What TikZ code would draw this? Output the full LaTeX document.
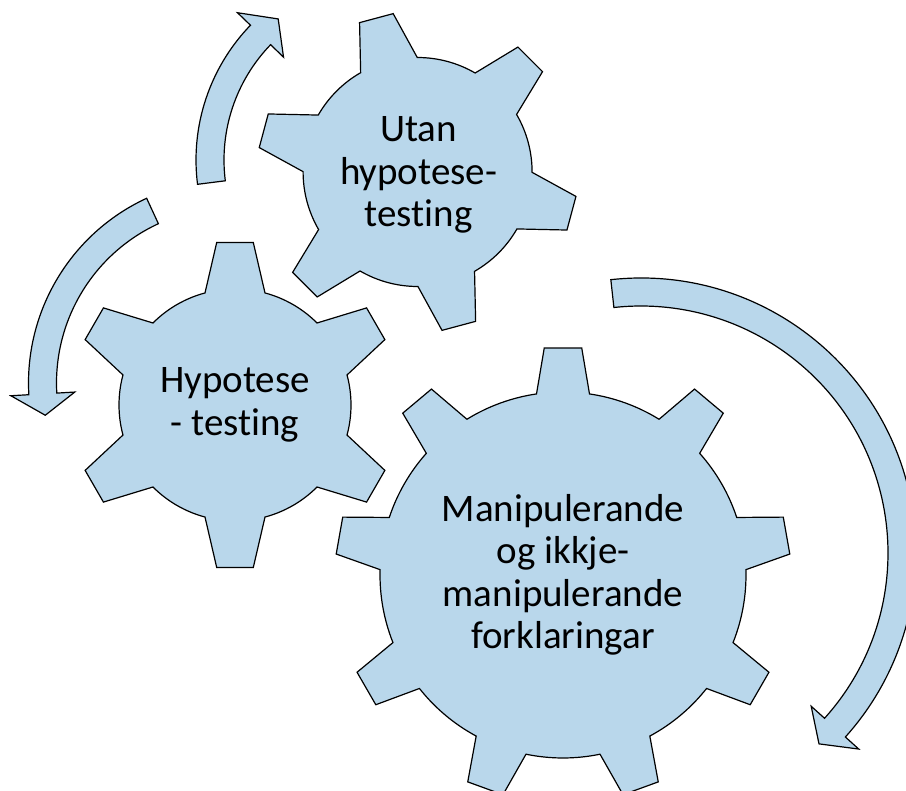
\documentclass[tikz,border=0pt]{standalone}
\usepackage{fontspec}
\setmainfont{Carlito}[Ligatures=NoCommon]
\usetikzlibrary{calc}
\definecolor{gearblue}{RGB}{185,215,235}

% Gear outline: #1 centre, #2 teeth, #3 angle of first tooth,
% #4 tip radius, #5 root radius, #6 tip half-width, #7 base half-width
\newcommand{\drawgear}[7]{%
  \pgfmathsetmacro\gStep{360/#2}%
  \pgfmathsetmacro\gTipA{atan(#6/#4)}%
  \pgfmathsetmacro\gTipR{#4/cos(\gTipA)}%
  \pgfmathsetmacro\gBaseA{asin(#7/#5)}%
  \pgfmathtruncatemacro\gLast{#2-1}%
  \pgfmathsetmacro\gStart{#3-\gBaseA}%
  \draw[gearbody] ($(#1)+(\gStart:#5pt)$)
    \foreach \k [evaluate=\k as \gA using #3+\k*\gStep-\gTipA,
                 evaluate=\k as \gB using #3+\k*\gStep+\gTipA,
                 evaluate=\k as \gS using #3+\k*\gStep+\gBaseA,
                 evaluate=\k as \gE using #3+(\k+1)*\gStep-\gBaseA] in {0,...,\gLast} {
      -- ($(#1)+(\gA:\gTipR pt)$) -- ($(#1)+(\gB:\gTipR pt)$)
      -- ($(#1)+(\gS:#5pt)$)
      arc[start angle=\gS, end angle=\gE, radius=#5pt]
    } -- cycle;%
}

% Curved block arrow: #1 centre, #2 mid radius, #3 tail angle,
% #4 angle of the head's back, #5 angle of the tip
\newcommand{\drawringarrow}[5]{%
  \pgfmathsetmacro\rOut{#2+14}%
  \pgfmathsetmacro\rIn{#2-14}%
  \pgfmathsetmacro\rBo{#2+32}%
  \pgfmathsetmacro\rBi{#2-32}%
  \draw[ringarrow] ($(#1)+(#3:\rOut pt)$)
    arc[start angle=#3, end angle=#4, radius=\rOut pt]
    -- ($(#1)+(#4:\rBo pt)$) -- ($(#1)+(#5:#2pt)$)
    -- ($(#1)+(#4:\rBi pt)$) -- ($(#1)+(#4:\rIn pt)$)
    arc[start angle=#4, end angle=#3, radius=\rIn pt] -- cycle;%
}

\begin{document}
\begin{tikzpicture}[x=1pt,y=1pt,
  gearbody/.style={fill=gearblue, draw=black, line width=1.2pt, line join=miter},
  ringarrow/.style={fill=gearblue, draw=black, line width=1.2pt, line join=miter},
  geartext/.style={align=center, font=\fontsize{39}{42.5}\selectfont, inner sep=0pt}]
\useasboundingbox (0,0) rectangle (906,-791);
\clip (0,0) rectangle (906,-791);

% gear centres
\coordinate (cBig) at (563,-575);
\coordinate (cMid) at (235,-405);
\coordinate (cTop) at (417.6,-172);
% centres of the circular arrows
\coordinate (aTop) at (390,-160);
\coordinate (aLeft) at (232,-383);
\coordinate (aRight) at (641,-553);

% gears
\drawgear{cBig}{9}{90}{227}{183}{18.75}{26.5}
\drawgear{cMid}{6}{90}{162.5}{116}{18.3}{30}
\drawgear{cTop}{6}{105}{159.3}{114.5}{17.4}{29.3}

% circular arrows
\drawringarrow{aTop}{180}{187.2}{136}{128.4}
\drawringarrow{aLeft}{189.5}{114.8}{183.3}{189.8}
\drawringarrow{aRight}{261}{96.3}{-42}{-47}

% labels
\node[geartext] (tBig) at (cBig) {Manipulerande\\og ikkje-\\manipulerande\\forklaringar};
\node[geartext] (tMid) at (cMid) {Hypotese\\- testing};
\node[geartext] (tTop) at ($(cTop)+(1,-3)$) {Utan\\hypotese-\\testing};
\end{tikzpicture}
\end{document}
